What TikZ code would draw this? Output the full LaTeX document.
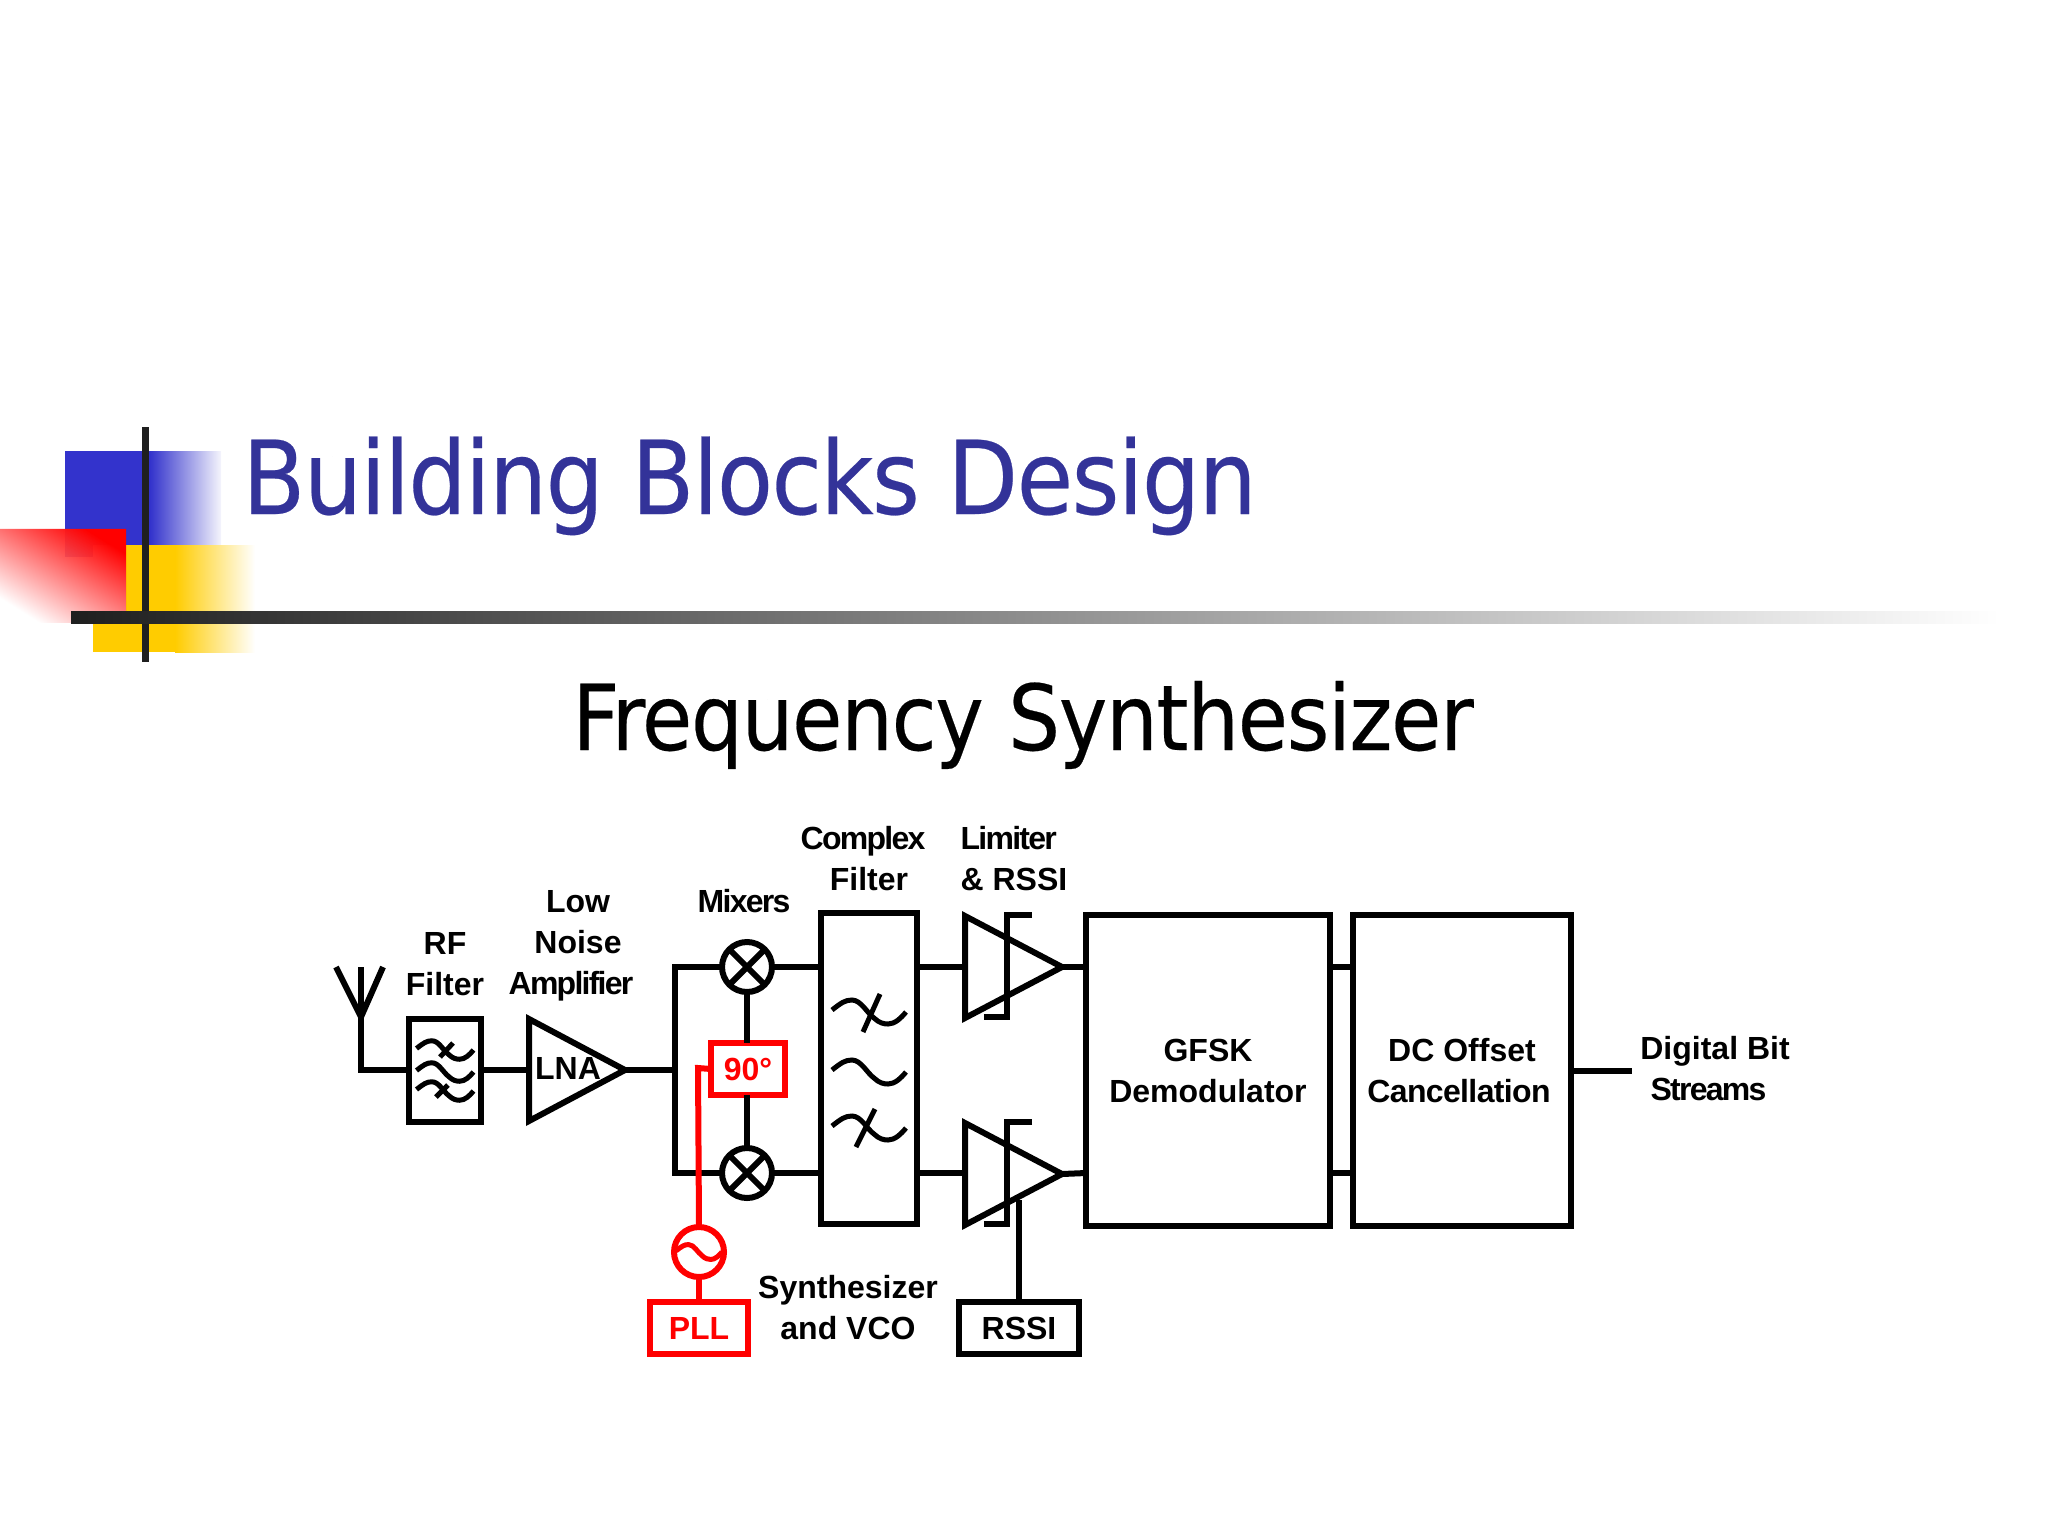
\documentclass[tikz,border=0pt]{standalone}
\usepackage{fontspec}
\setmainfont{Liberation Sans}
\newfontfamily\titlefont[FakeBold=0.25, LetterSpace=-1.5]{DejaVu Sans Condensed}
\usetikzlibrary{fadings}
\tikzfading[name=redfade, left color=transparent!100, right color=transparent!0]
\newcommand{\tight}[1]{{\addfontfeature{LetterSpace=-5.5}#1}}
\definecolor{sigred}{RGB}{255,0,0}
\definecolor{titleblue}{RGB}{51,51,153}
\definecolor{logoblue}{RGB}{51,51,204}
\definecolor{logoyellow}{RGB}{255,204,0}
\tikzset{
	wire/.style = {line width=3pt, line cap=butt, line join=miter},
	thinwire/.style = {wire, line width=2.5pt},
	redwire/.style = {wire, draw=sigred},
	textfont/.style = {font=\fontsize{16}{20.5}\selectfont\bfseries},
	block/.style = {draw, line width=3pt, inner sep=0pt, outer sep=0pt, align=center, textfont},
	redblock/.style = {block, draw=sigred, text=sigred},
	mixer/.style = {draw, circle, line width=3pt, minimum size=25pt, inner sep=0pt, outer sep=0pt},
	osc/.style = {mixer, draw=sigred},
	caption/.style = {align=center, inner sep=0pt, textfont},
	wave/.pic = {\draw[thinwire, pic actions] (-37,-2) .. controls (-28,-9) and (-24,-12) .. (-17,-12) .. controls (-8,-12) and (-2,1) .. (5,6) .. controls (10,11) and (15,12) .. (19,12) .. controls (26,12) and (32,6) .. (37,0);}
}
\begin{document}
\begin{tikzpicture}[x=.5pt, y=-.5pt]
	\useasboundingbox (0,0) rectangle (2048,1536);
	% logo
	\fill[logoblue] (65,451) rectangle (150,557);
	\fill[left color=logoblue, right color=logoblue!5] (150,451) rectangle (221,557);
	\fill[logoyellow] (93,545) rectangle (175,652);
	\fill[left color=logoyellow, right color=white] (175,545) rectangle (255,652);
	\fill[white] (0,529) rectangle (126,623);
	\fill[logoblue, opacity=.2] (65,529) rectangle (126,545);
	\fill[logoblue, opacity=.2] (65,545) rectangle (93,557);
	\fill[red, path fading=redfade, fading angle=50] (0,529) rectangle (126,623);
	\fill[black!88] (142,427) rectangle (149,662);
	\fill[left color=black!88, right color=white] (71,611) rectangle (2000,623);
	% titles
	\node[titleblue, font=\titlefont\fontsize{51}{60}\selectfont, anchor=base west, inner sep=0pt] (title) at (242,514) {Building Blocks Design};
	\node[font=\titlefont\fontsize{45.5}{56}\selectfont, anchor=base west, inner sep=0pt] (sub) at (572,750) {Frequency Synthesizer};
	% blocks
	\node[block, minimum width=36pt, minimum height=51.5pt] (rf) at (445,1070) {};
	\coordinate (ant) at (361,1017);
	\coordinate (lnain) at (529,1070);
	\coordinate (lnaout) at (625,1070);
	\node[mixer] (mixup) at (747,967) {};
	\node[mixer] (mixdn) at (747,1173) {};
	\node[redblock, minimum width=37pt, minimum height=26pt] (shift) at (748,1069) {90°};
	\node[osc] (vco) at (699,1252) {};
	\node[redblock, minimum width=49pt, minimum height=26pt] (pll) at (699,1328) {PLL};
	\node[block, minimum width=48pt, minimum height=155.5pt] (cfilt) at (869,1068) {};
	\node[block, minimum width=60pt, minimum height=26pt] (rssi) at (1019,1328) {RSSI};
	\node[block, minimum width=122pt, minimum height=155.5pt] (demod) at (1208,1070.5) {GFSK\\Demodulator};
	\node[block, minimum width=109pt, minimum height=155.5pt] (dc) at (1462,1070.5) {DC Offset\\{\addfontfeature{LetterSpace=-2}Cancellation}\hspace{3pt}\null};
	% antenna
	\draw[wire] (336,967) -- (ant) -- (383,967);
	\draw[wire] (361,967) -- (ant) -- (361,1070) -- (rf.west);
	\draw[wire] (rf.east) -- (lnain);
	% lna
	\draw[wire] (529,1019) -- (lnaout) -- (529,1121) -- cycle;
	\node[inner sep=0pt, textfont] (lnatext) at (568,1068.5) {LNA};
	\draw[wire] (lnaout) -- (675,1070);
	\draw[wire] (mixup.west) -- (675,967) -- (675,1173) -- (mixdn.west);
	\draw[wire] (mixup.east) -- (cfilt.west |- mixup);
	\draw[wire] (mixdn.east) -- (cfilt.west |- mixdn);
	\draw[wire] (mixup.south) -- (shift.north -| mixup);
	\draw[wire] (mixdn.north) -- (shift.south -| mixdn);
	\draw[wire] (mixup.north west) -- (mixup.south east);
	\draw[wire] (mixup.north east) -- (mixup.south west);
	\draw[wire] (mixdn.north west) -- (mixdn.south east);
	\draw[wire] (mixdn.north east) -- (mixdn.south west);
	% red path
	\draw[redwire] (shift.west) -- (698,1068) -- (vco.north);
	\draw[redwire] (vco.south) -- (pll.north);
	\pic[draw=sigred, scale=.62] at (699,1252) {wave};
	% filters
	\pic[scale=.77] at (445,1050) {wave};
	\pic[scale=.77] at (445,1072) {wave};
	\pic[scale=.77] at (445,1091) {wave};
	\draw[thinwire] (453,1043) -- (440,1057);
	\draw[thinwire] (448,1085) -- (436,1097);
	\pic at (869,1012) {wave};
	\pic at (869,1072) {wave};
	\pic at (869,1128) {wave};
	\draw[thinwire] (880,994) -- (863,1032);
	\draw[thinwire] (875,1109) -- (856,1147);
	% limiters
	\draw[wire] (965,916) -- (1062,967) -- (965,1018) -- cycle;
	\draw[wire] (965,1123) -- (1062,1174) -- (965,1225) -- cycle;
	\draw[wire] (1032,915) -- (1007,915) -- (1007,1017) -- (984,1017);
	\draw[wire] (1032,1122) -- (1007,1122) -- (1007,1224) -- (984,1224);
	\draw[wire] (cfilt.east |- mixup) -- (965,967);
	\draw[wire] (cfilt.east |- mixdn) -- (965,1173);
	\draw[wire] (1062,967) -- (demod.west |- mixup);
	\draw[wire] (1062,1174) -- (demod.west |- mixdn);
	\draw[wire] (rssi.north) -- (1019,1200);
	\draw[wire] (demod.east |- mixup) -- (dc.west |- mixup);
	\draw[wire] (demod.east |- mixdn) -- (dc.west |- mixdn);
	\coordinate (bits) at (1632,1071);
	\draw[wire] (dc.east |- bits) -- (bits);
	% captions
	\node[caption] (t1) at (445,964) {RF\\Filter};
	\node[caption] (t2) at (578,946) {Low\\Noise\\\tight{Amplifier}\hspace{7pt}\null};
	\node[caption] (t3) at (744,901) {\tight{Mixers}};
	\node[caption] (t4) at (869,859) {\tight{Complex}\hspace{6pt}\null\\Filter};
	\node[caption, align=left] (t5) at (1014,859) {\tight{Limiter}\\\& RSSI};
	\node[caption] (t6) at (848,1308) {Synthesizer\\and VCO};
	\node[caption] (t7) at (1715,1069) {Digital Bit\\\tight{Streams}\hspace{6.5pt}\null};
\end{tikzpicture}
\end{document}
